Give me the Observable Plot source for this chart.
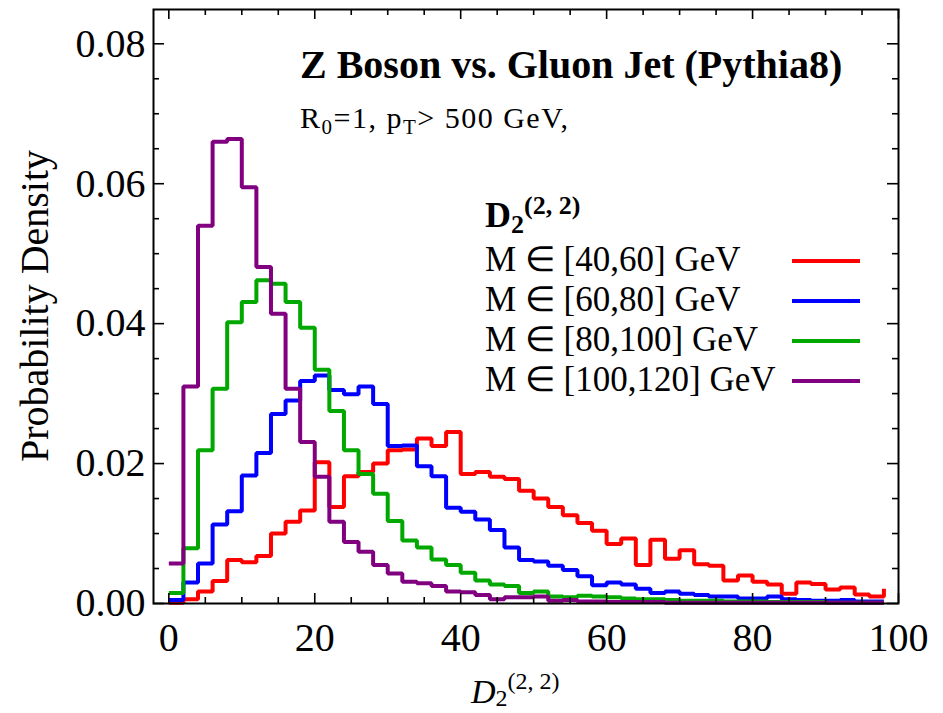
<!DOCTYPE html>
<html><head><meta charset="utf-8">
<script src="https://cdn.jsdelivr.net/npm/d3@7"></script>
<script src="https://cdn.jsdelivr.net/npm/@observablehq/plot@0.6"></script>
<style>body{margin:0;background:#fff} #chart{width:943px;height:713px}</style>
</head><body><div id="chart"></div>
<script>
// bin left edges of D2^(2,2) histogram (bin width 2)
const binStarts = [0,2,4,6,8,10,12,14,16,18,20,22,24,26,28,30,32,34,36,38,40,42,44,46,48,50,52,54,56,58,60,62,64,66,68,70,72,74,76,78,80,82,84,86,88,90,92,94,96,98];

const seriesNames = ["M \u2208 [40,60] GeV", "M \u2208 [60,80] GeV", "M \u2208 [80,100] GeV", "M \u2208 [100,120] GeV"];
const seriesColors = ["#ff0000", "#0000ff", "#00a800", "#800080"];

const m40_60 = [0.0001,0.0006,0.0017,0.0032,0.0062,0.0059,0.0068,0.0100,0.0117,0.0133,0.0202,0.0138,0.0182,0.0188,0.0200,0.0219,0.0220,0.0236,0.0225,0.0245,0.0185,0.0188,0.0181,0.0178,0.0161,0.0150,0.0138,0.0126,0.0115,0.0104,0.0085,0.0093,0.0055,0.0091,0.0064,0.0076,0.0056,0.0054,0.0033,0.0040,0.0031,0.0027,0.0014,0.0030,0.0028,0.0020,0.0023,0.0013,0.0010,0.0021];
const m60_80 = [0.0005,0.0030,0.0057,0.0113,0.0132,0.0183,0.0215,0.0271,0.0290,0.0318,0.0326,0.0305,0.0299,0.0310,0.0285,0.0225,0.0226,0.0196,0.0182,0.0137,0.0131,0.0120,0.0105,0.0080,0.0062,0.0060,0.0054,0.0048,0.0039,0.0026,0.0030,0.0027,0.0021,0.0015,0.0017,0.0014,0.0012,0.0010,0.0010,0.0007,0.0007,0.0010,0.0006,0.0005,0.0004,0.0004,0.0005,0.0003,0.0003,0.0003];
const m80_100 = [0.0015,0.0079,0.0219,0.0307,0.0402,0.0431,0.0462,0.0457,0.0431,0.0394,0.0334,0.0275,0.0219,0.0185,0.0157,0.0118,0.0090,0.0080,0.0063,0.0055,0.0044,0.0033,0.0027,0.0025,0.0015,0.0017,0.0010,0.0009,0.0011,0.0010,0.0009,0.0007,0.0006,0.0006,0.0005,0.0004,0.0004,0.0004,0.0003,0.0003,0.0003,0.0002,0.0002,0.0002,0.0002,0.0001,0.0001,0.0001,0.0001,0.0001];
const m100_120 = [0.0057,0.0310,0.0540,0.0660,0.0664,0.0595,0.0481,0.0414,0.0307,0.0231,0.0181,0.0117,0.0088,0.0074,0.0055,0.0043,0.0031,0.0029,0.0025,0.0017,0.0016,0.0012,0.0006,0.0009,0.0009,0.0010,0.0004,0.0005,0.0003,0.0003,0.0002,0.0002,0.0002,0.0002,0.0001,0.0001,0.0001,0.0001,0.0001,0.0001,0.0001,0.0001,0.0001,0.0001,0.0001,0.0001,0.0001,0.0001,0.0001,0.0001];
const seriesValues = [m40_60, m60_80, m80_100, m100_120];

const xMajorTicks = [0, 20, 40, 60, 80, 100];
const xMinorTicks = [5,10,15,25,30,35,45,50,55,65,70,75,85,90,95];
const yMajorTicks = [0, 0.02, 0.04, 0.06, 0.08];
const yMinorTicks = [0.005,0.01,0.015,0.025,0.03,0.035,0.045,0.05,0.055,0.065,0.07,0.075];

const W = 943, H = 713, mL = 153, mR = 45, mT = 9, mB = 110;
const innerW = W - mL - mR, innerH = H - mT - mB;
const FONT = "'Liberation Serif', 'Times New Roman', serif";

const rows = [];
seriesValues.forEach((vals, s) => vals.forEach((v, i) => rows.push({x: binStarts[i], y: v, s})));

const lineMarks = seriesValues.map((vals, s) =>
  Plot.line(rows.filter(r => r.s === s), {x: "x", y: "y", curve: "step-after",
    stroke: seriesColors[s], strokeWidth: 4, strokeLinejoin: "miter", strokeLinecap: "butt"}));

const tickStyle = {stroke: "black", strokeWidth: 1.6};
const plot = Plot.plot({
  width: W, height: H,
  marginLeft: mL, marginRight: mR, marginTop: mT, marginBottom: mB,
  x: {domain: [-2.1, 100]},
  y: {domain: [0, 0.0849]},
  style: {fontFamily: FONT, background: "white", color: "black"},
  marks: [
    ...lineMarks,
    Plot.frame({stroke: "black", strokeWidth: 2}),
    // inward major/minor ticks on all four sides
    Plot.tickX(xMajorTicks, {x: d => d, insetTop: innerH - 10, ...tickStyle}),
    Plot.tickX(xMinorTicks, {x: d => d, insetTop: innerH - 6, ...tickStyle}),
    Plot.tickX(xMajorTicks, {x: d => d, insetBottom: innerH - 10, ...tickStyle}),
    Plot.tickX(xMinorTicks, {x: d => d, insetBottom: innerH - 6, ...tickStyle}),
    Plot.tickY(yMajorTicks, {y: d => d, insetRight: innerW - 11, ...tickStyle}),
    Plot.tickY(yMinorTicks, {y: d => d, insetRight: innerW - 6, ...tickStyle}),
    Plot.tickY(yMajorTicks, {y: d => d, insetLeft: innerW - 11, ...tickStyle}),
    Plot.tickY(yMinorTicks, {y: d => d, insetLeft: innerW - 6, ...tickStyle}),
    Plot.axisX(xMajorTicks, {tickSize: 0, tickPadding: 19, fontSize: 40, tickFormat: d => String(d), label: null}),
    Plot.axisY(yMajorTicks, {tickSize: 0, tickPadding: 8, fontSize: 40, tickFormat: d3.format(".2f"), label: null})
  ]
});

const svg = d3.select(plot);
const addText = (x, y, size) => svg.append("text").attr("x", x).attr("y", y)
  .attr("font-family", FONT).attr("font-size", size).attr("fill", "black")
  .attr("text-anchor", "start");
// Title
addText(300, 78, 40).attr("font-weight", "bold").text("Z Boson vs. Gluon Jet (Pythia8)");
// Subtitle
const sub = addText(300, 128, 30).attr("textLength", 268).attr("lengthAdjust", "spacing");
sub.append("tspan").text("R");
sub.append("tspan").attr("font-size", 21).attr("dy", 6).text("0");
sub.append("tspan").attr("dy", -6).text("=1, p");
sub.append("tspan").attr("font-size", 21).attr("dy", 6).text("T");
sub.append("tspan").attr("dy", -6).text("> 500 GeV,");

// Legend header
const lh = addText(485, 227, 36).attr("font-weight", "bold");
lh.append("tspan").text("D");
lh.append("tspan").attr("font-size", 26).attr("dy", 6).text("2");
lh.append("tspan").attr("font-size", 26).attr("dy", -19).text("(2, 2)");

// Legend rows
const rowBase = [271, 311, 351, 391];
seriesNames.forEach((name, s) => {
  addText(485, rowBase[s], 35).text(name);
  svg.append("line").attr("x1", 792).attr("x2", 860)
    .attr("y1", rowBase[s] - 10).attr("y2", rowBase[s] - 10)
    .attr("stroke", seriesColors[s]).attr("stroke-width", 4);
});

// X axis label
const xl = addText(471, 703, 34);
xl.append("tspan").attr("font-style", "italic").text("D");
xl.append("tspan").attr("font-size", 24).attr("dy", 3).text("2");
xl.append("tspan").attr("font-size", 24).attr("dy", -17).text("(2, 2)");

// Y axis label
svg.append("text").attr("transform", "translate(48,306) rotate(-90)")
  .attr("text-anchor", "middle").attr("font-family", FONT)
  .attr("font-size", 40).attr("fill", "black").text("Probability Density");

document.getElementById("chart").appendChild(plot);
</script>
</body></html>
